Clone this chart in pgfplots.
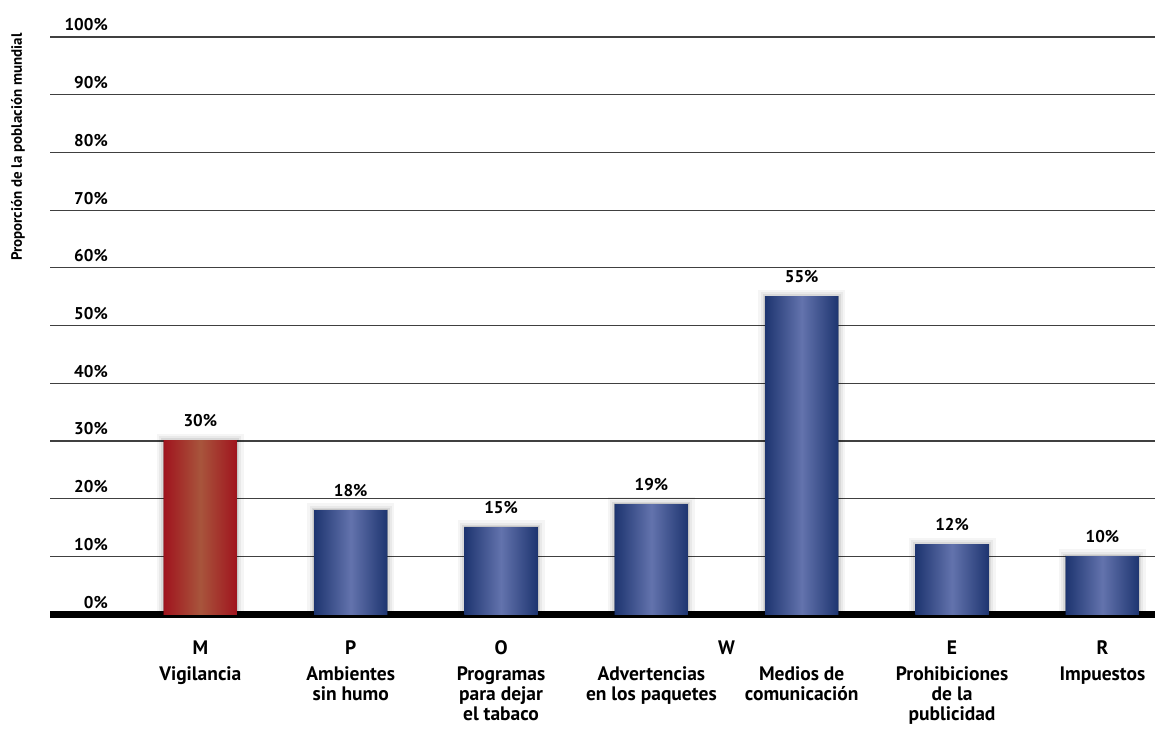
\documentclass[border=0pt]{standalone}
\usepackage{fontspec}
\setmainfont{PT Sans}
\usepackage{pgfplots}
\pgfplotsset{compat=1.18}
\definecolor{bluedark}{HTML}{1E3570}
\definecolor{bluelight}{HTML}{6373AD}
\definecolor{reddark}{HTML}{A0141E}
\definecolor{redlight}{HTML}{A8553C}
\tikzset{
  halo/.style={
    preaction={draw=black, draw opacity=0.04, line width=14pt},
    preaction={draw=black, draw opacity=0.05, line width=9pt},
    preaction={draw=black, draw opacity=0.07, line width=5pt},
    preaction={draw=black, draw opacity=0.09, line width=2pt}},
  bluebar/.style={draw=none, halo, left color=bluedark, right color=bluedark, middle color=bluelight},
  redbar/.style={draw=none, halo, left color=reddark, right color=reddark, middle color=redlight},
}
\begin{document}
\begin{tikzpicture}
\path[use as bounding box] (0,0) rectangle (1155pt,729pt);
\begin{axis}[
  at={(50pt,115pt)}, anchor=south west,
  scale only axis, width=1105pt, height=577pt,
  xmin=-1, xmax=6.35, ymin=0, ymax=100,
  axis line style={draw=none},
  ytick={10,20,...,100},
  extra y ticks={0},
  extra y tick labels={0\%},
  extra y tick style={grid style={black, line width=7pt}},
  yticklabel={\pgfmathprintnumber{\tick}\%},
  yticklabel style={anchor=base east, inner sep=0pt, xshift=58pt, yshift=6pt, font=\fontsize{17}{19}\selectfont\bfseries},
  major tick length=0pt,
  ymajorgrids,
  grid style={color=black!75, line width=1.2pt},
  /pgf/number format/assume math mode=true,
  xtick={0,1,...,6},
  xticklabels={
    {\strut M\\[6pt]Vigilancia},
    {\strut P\\[6pt]Ambientes\\sin humo},
    {\strut O\\[6pt]Programas\\para dejar\\el tabaco},
    {\strut\\[6pt]Advertencias\\en los paquetes},
    {\strut\\[6pt]Medios de\\comunicación},
    {\strut E\\[6pt]Prohibiciones\\de la\\publicidad},
    {\strut R\\[6pt]Impuestos}},
  extra x ticks={3.5},
  extra x tick labels={\strut W},
  xticklabel style={anchor=north, inner sep=0pt, yshift=-26pt, align=center, font=\fontsize{19.5}{20}\selectfont\bfseries},
  ylabel={Proporción de la población mundial},
  every axis y label/.style={at={(rel axis cs:-0.029,0.809)}, rotate=90, anchor=center, font=\fontsize{15}{16}\selectfont\bfseries},
  ybar, bar width=73pt, bar shift=0pt,
  nodes near coords={\pgfmathprintnumber{\pgfplotspointmeta}\%},
  every node near coord/.append style={anchor=base, inner sep=0pt, yshift=14pt, font=\fontsize{17}{19}\selectfont\bfseries, color=black},
]
\addplot[redbar]  coordinates {(0,30)};
\addplot[bluebar] coordinates {(1,18)};
\addplot[bluebar] coordinates {(2,15)};
\addplot[bluebar] coordinates {(3,19)};
\addplot[bluebar] coordinates {(4,55)};
\addplot[bluebar] coordinates {(5,12)};
\addplot[bluebar] coordinates {(6,10)};
\end{axis}
\end{tikzpicture}
\end{document}
